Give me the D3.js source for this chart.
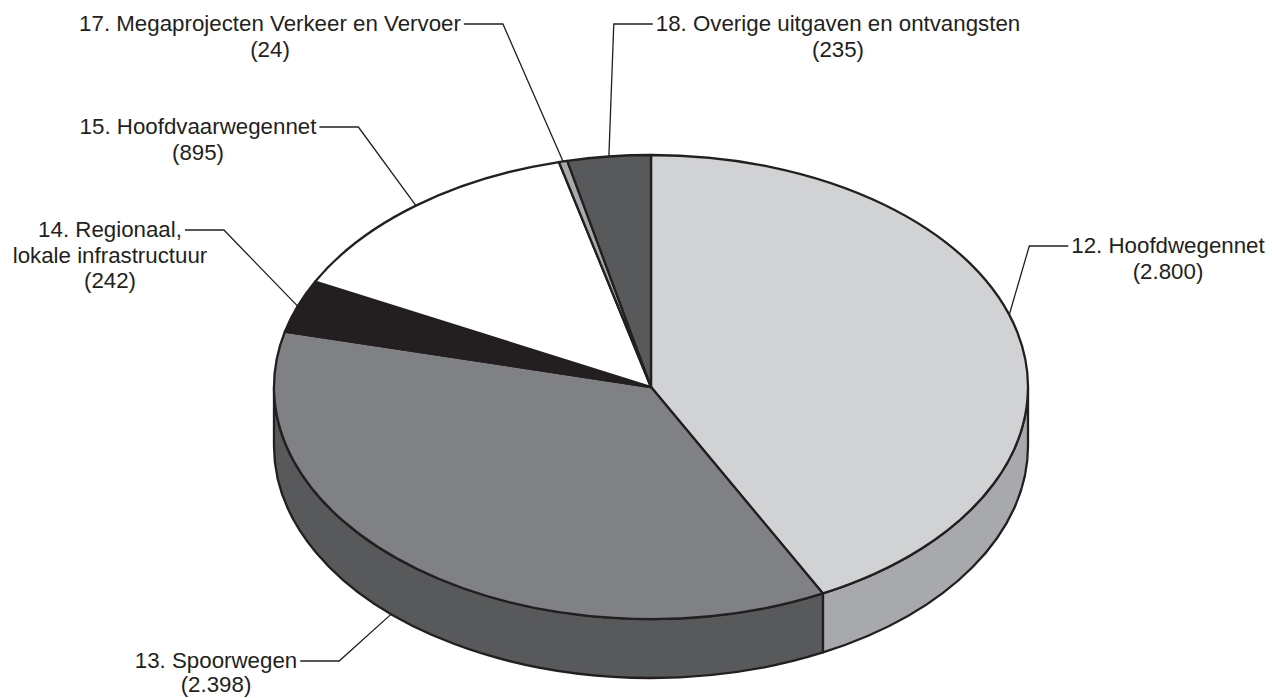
<!DOCTYPE html>
<html>
<head>
<meta charset="utf-8">
<script src="https://cdn.jsdelivr.net/npm/d3@7"></script>
<style>
  body { margin: 0; background: #fff; }
  svg { display: block; }
</style>
</head>
<body>
<div class="chart"></div>
<script>
var w = 1272, h = 698;

// data
var categories = ["12. Hoofdwegennet", "13. Spoorwegen", "14. Regionaal,|lokale infrastructuur",
                  "15. Hoofdvaarwegennet", "17. Megaprojecten Verkeer en Vervoer", "18. Overige uitgaven en ontvangsten"];
var values = [2800, 2398, 242, 895, 24, 235];
var topColors = ["#d1d2d4", "#808185", "#231f20", "#ffffff", "#a7a9ac", "#58595b"];
var sideColors = ["#a7a9ac", "#58595b", "#231f20", "#ffffff", "#a7a9ac", "#58595b"];

// label layout: block centre x, first baseline, line gap, which side the leader leaves from, where it hits the pie
var labelLayout = [
  { x: 1168, y: 253, gap: 25.5, side: "left",  t: 0.47, bottom: false },
  { x: 216,  y: 668, gap: 24,   side: "right", t: 0.54, bottom: true },
  { x: 110,  y: 237, gap: 25.5, side: "right", t: 0.5,  bottom: false },
  { x: 198,  y: 134, gap: 25.5, side: "right", t: 0.5,  bottom: false },
  { x: 270,  y: 31,  gap: 25.5, side: "right", t: 0.5,  bottom: false },
  { x: 838,  y: 31,  gap: 25.5, side: "left",  t: 0.5,  bottom: false }
];

var cx = 651, cy = 387, rx = 377, ry = 232, depth = 59;
var elbow = 39;

var nl = d3.formatLocale({ decimal: ",", thousands: ".", grouping: [3], currency: ["€", ""] });
var fmt = nl.format(",");

var xs = d3.scaleLinear().domain([-1, 1]).range([cx - rx, cx + rx]);
var ys = d3.scaleLinear().domain([-1, 1]).range([cy - ry, cy + ry]);

function pt(a, dy) {
  dy = dy || 0;
  return [xs(Math.sin(a)), ys(-Math.cos(a)) + dy];
}

var arcs = d3.pie().sort(null).value(function(d) { return d; })(values);

var svg = d3.select(".chart")
  .append("svg")
  .attr("width", w)
  .attr("height", h);

// side walls (only the front half is visible)
var sides = svg.append("g");
arcs.forEach(function(d, i) {
  var s = Math.max(d.startAngle, Math.PI / 2);
  var e = Math.min(d.endAngle, Math.PI * 1.5);
  if (s >= e) return;
  var a = pt(s), b = pt(e), b2 = pt(e, depth), a2 = pt(s, depth);
  var p = "M" + a + "A" + rx + "," + ry + " 0 0 1 " + b +
          "L" + b2 + "A" + rx + "," + ry + " 0 0 0 " + a2 + "Z";
  sides.append("path")
    .attr("d", p)
    .attr("fill", sideColors[i])
    .attr("stroke", "#231f20")
    .attr("stroke-width", 2.3)
    .attr("stroke-linejoin", "round");
});

// top faces
svg.append("g")
  .selectAll("path")
  .data(arcs)
  .enter()
  .append("path")
  .attr("d", function(d) {
    var a = pt(d.startAngle), b = pt(d.endAngle);
    var large = d.endAngle - d.startAngle > Math.PI ? 1 : 0;
    return "M" + cx + "," + cy + "L" + a + "A" + rx + "," + ry + " 0 " + large + " 1 " + b + "Z";
  })
  .attr("fill", function(d, i) { return topColors[i]; })
  .attr("stroke", "#231f20")
  .attr("stroke-width", 2.3)
  .attr("stroke-linejoin", "round");

// labels + leader lines
var lg = svg.append("g");
arcs.forEach(function(d, i) {
  var L = labelLayout[i];
  var lines = categories[i].split("|").concat(["(" + fmt(values[i]) + ")"]);
  var texts = [];
  lines.forEach(function(s, k) {
    var t = lg.append("text")
      .attr("x", L.x)
      .attr("y", L.y + k * L.gap)
      .attr("text-anchor", "middle")
      .attr("font-family", "'Liberation Sans', Arial, sans-serif")
      .attr("font-size", "22.3px")
      .attr("fill", "#231f20")
      .text(s);
    texts.push(t);
  });
  var first = texts[0].node();
  var len = first.getComputedTextLength();
  var ly = L.y - 7;
  var x0 = L.side === "right" ? L.x + len / 2 + 3 : L.x - len / 2 - 3;
  var x1 = L.side === "right" ? x0 + elbow : x0 - elbow;
  var ang = d.startAngle + L.t * (d.endAngle - d.startAngle);
  var end = pt(ang, L.bottom ? depth : 0);
  lg.append("path")
    .attr("d", "M" + x0 + "," + ly + "L" + x1 + "," + ly + "L" + end)
    .attr("fill", "none")
    .attr("stroke", "#231f20")
    .attr("stroke-width", 1.3);
});
</script>
</body>
</html>
